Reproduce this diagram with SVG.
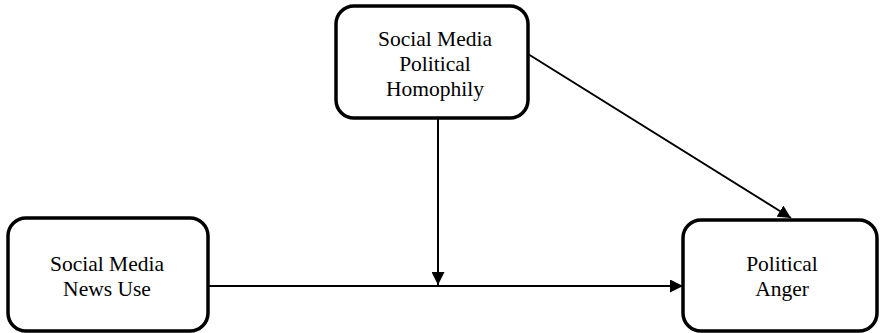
<svg xmlns="http://www.w3.org/2000/svg" width="880" height="333" viewBox="0 0 880 333">
<style>
.box{fill:#fff;stroke:#000;stroke-width:3.5}
.t{font-family:"Liberation Serif","Times New Roman",serif;font-size:21.5px;fill:#000;text-anchor:middle}
.c{stroke:#000;stroke-width:2;fill:none;marker-end:url(#ah)}
</style>
<defs>
<marker id="ah" viewBox="0 0 10 10" refX="10" refY="5" markerWidth="6.5" markerHeight="6.5" markerUnits="strokeWidth" orient="auto">
<path d="M0,0 L10,5 L0,10 z" fill="#000"/>
</marker>
</defs>
<rect width="880" height="333" fill="#fff"/>
<g id="connectors">
<line class="c" x1="208" y1="286" x2="683" y2="286"/>
<line class="c" x1="438" y1="119" x2="438" y2="285"/>
<line class="c" x1="528" y1="54" x2="791" y2="218"/>
</g>
<g id="homophily">
<rect class="box" x="336" y="6" width="192" height="112" rx="18"/>
<text class="t" x="435" y="46">Social Media</text>
<text class="t" x="435" y="71">Political</text>
<text class="t" x="435" y="96">Homophily</text>
</g>
<g id="newsuse">
<rect class="box" x="8" y="218" width="200" height="113" rx="18"/>
<text class="t" x="107" y="271">Social Media</text>
<text class="t" x="107" y="296">News Use</text>
</g>
<g id="anger">
<rect class="box" x="683" y="220" width="194" height="111" rx="18"/>
<text class="t" x="782" y="271">Political</text>
<text class="t" x="782" y="296">Anger</text>
</g>
</svg>
